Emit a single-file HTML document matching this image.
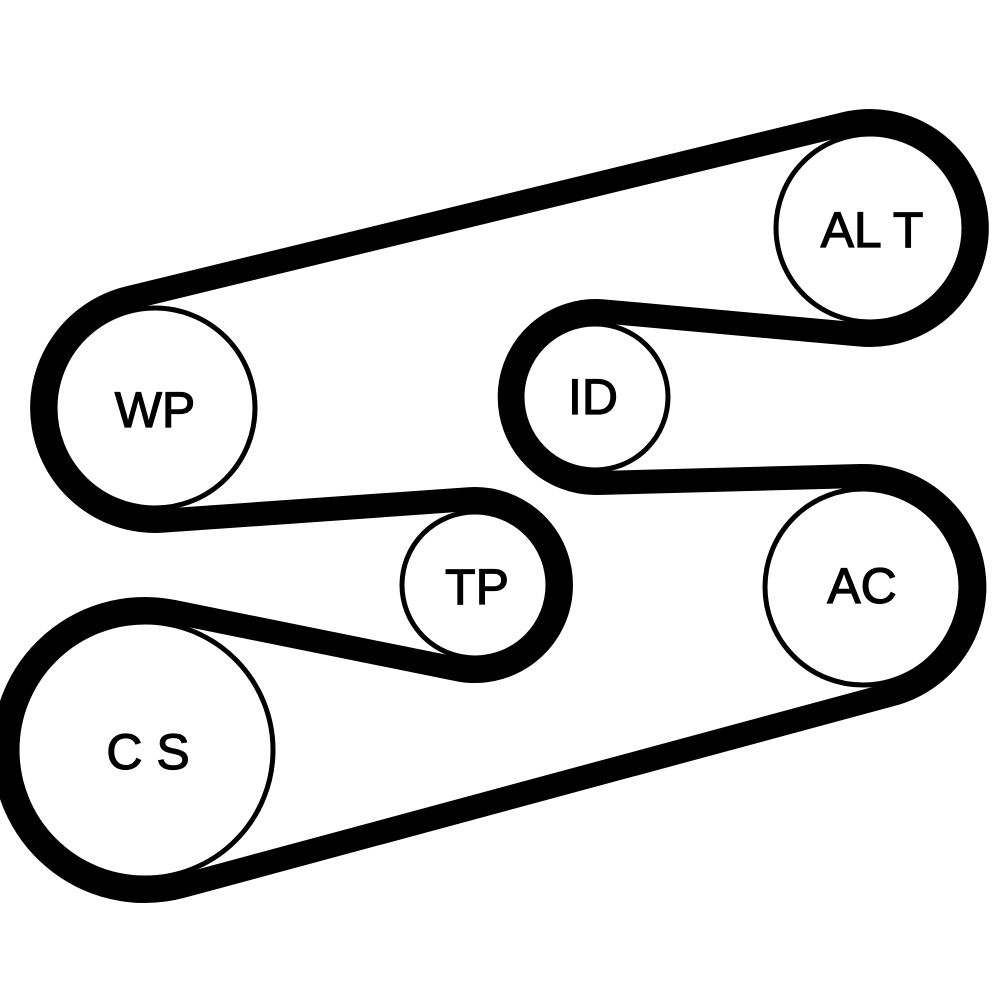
<!DOCTYPE html>
<html><head><meta charset="utf-8"><style>
html,body{margin:0;padding:0;background:#fff}
svg{display:block}
text{font-family:"Liberation Sans",Arial,sans-serif;font-size:50px;fill:#000;stroke:#000;stroke-width:1.2px;text-anchor:middle;dominant-baseline:central}
</style></head><body>
<svg id="s" width="1000" height="1000" viewBox="0 0 1000 1000">
<path id="belt" d="" fill="none" stroke="#000" stroke-width="24" stroke-linejoin="round"/>
<g fill="#fff" stroke="#000" stroke-width="5">
<circle cx="870" cy="228" r="94"/>
<circle cx="155" cy="408" r="100"/>
<circle cx="595" cy="397" r="73"/>
<circle cx="475" cy="585" r="73"/>
<circle cx="863" cy="587" r="98"/>
<circle cx="145" cy="750" r="128"/>
</g>
<text x="872" y="230">AL T</text>
<text x="155" y="410">WP</text>
<text x="593" y="397">ID</text>
<text x="477" y="587">TP</text>
<text x="862" y="586">AC</text>
<text x="148" y="752">C S</text>
</svg>
<script>
var t=13;
var P=[[155,408,100,1],[870,228,94,1],[595,397,73,-1],[863,587,98,1],[145,750,128,1],[475,585,73,-1]];
var C=P.map(function(p){return {x:p[0],y:p[1],r:(p[2]+t)*p[3],R:p[2]+t,s:p[3]};});
var n=C.length,seg=[];
for(var i=0;i<n;i++){var a=C[i],b=C[(i+1)%n];var dx=b.x-a.x,dy=b.y-a.y,L=Math.hypot(dx,dy);var ux=dx/L,uy=dy/L,vx=uy,vy=-ux;
var k=-(b.r-a.r)/L,m=Math.sqrt(1-k*k);var nx=k*ux+m*vx,ny=k*uy+m*vy;
seg.push([a.x+a.r*nx,a.y+a.r*ny,b.x+b.r*nx,b.y+b.r*ny]);}
var d="M"+seg[n-1][2].toFixed(1)+" "+seg[n-1][3].toFixed(1);
for(var i=0;i<n;i++){var c=C[i],pr=seg[(i+n-1)%n],cu=seg[i];
var a0=Math.atan2(pr[3]-c.y,pr[2]-c.x),a1=Math.atan2(cu[1]-c.y,cu[0]-c.x);
var del=c.s>0?a1-a0:a0-a1;while(del<0)del+=2*Math.PI;
d+=" A"+c.R+" "+c.R+" 0 "+(del>Math.PI?1:0)+" "+(c.s>0?1:0)+" "+cu[0].toFixed(1)+" "+cu[1].toFixed(1);
d+=" L"+cu[2].toFixed(1)+" "+cu[3].toFixed(1);}
document.getElementById("belt").setAttribute("d",d+"Z");
</script>
</body></html>
